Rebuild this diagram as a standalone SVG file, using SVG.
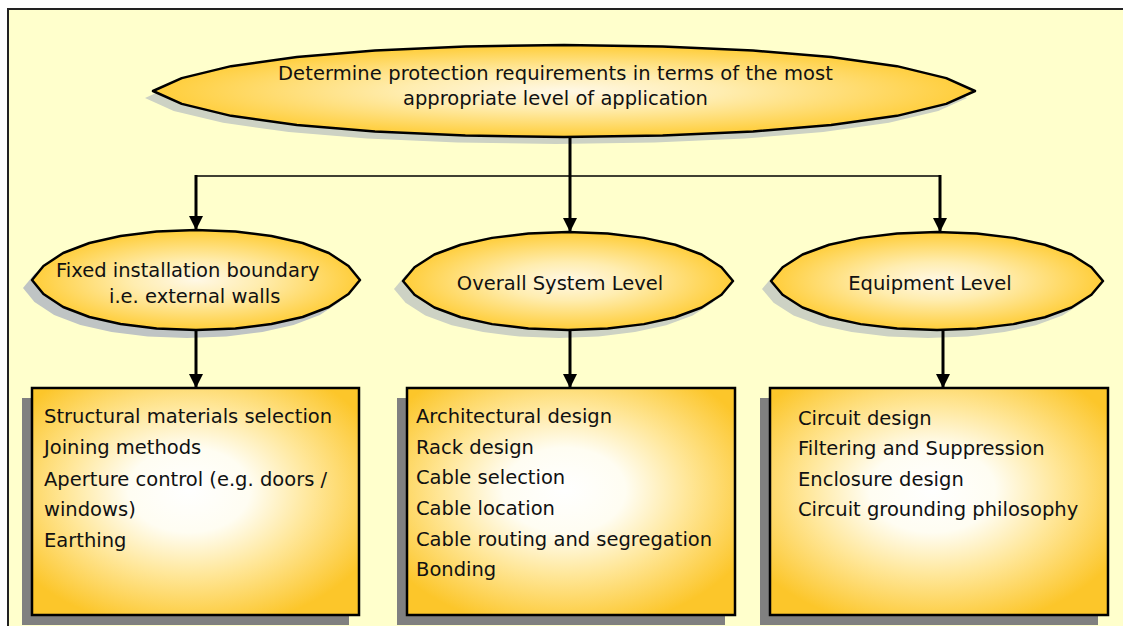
<svg xmlns="http://www.w3.org/2000/svg" width="1123" height="626" viewBox="0 0 1123 626">
<defs>
<radialGradient id="gEll" cx="50%" cy="50%" r="55%">
<stop offset="0" stop-color="#FFF8E6"/>
<stop offset="0.35" stop-color="#FFEDB0"/>
<stop offset="1" stop-color="#FFC825"/>
</radialGradient>
<radialGradient id="gBox" cx="48%" cy="45%" r="62%">
<stop offset="0" stop-color="#FFFFFF"/>
<stop offset="0.3" stop-color="#FFFDF2"/>
<stop offset="0.6" stop-color="#FFE79A"/>
<stop offset="1" stop-color="#FCC62A"/>
</radialGradient>
<path id="oval" vector-effect="non-scaling-stroke" d="M1,0 L0.93,0.28 0.81,0.54 0.65,0.74 0.46,0.88 0.24,0.97 0,1 -0.24,0.97 -0.46,0.88 -0.65,0.74 -0.81,0.54 -0.93,0.28 -1,0 -0.93,-0.28 -0.81,-0.54 -0.65,-0.74 -0.46,-0.88 -0.24,-0.97 0,-1 0.24,-0.97 0.46,-0.88 0.65,-0.74 0.81,-0.54 0.93,-0.28 Z"/>
<marker id="ah" viewBox="0 0 10 10" refX="10" refY="5" markerWidth="4.8" markerHeight="4.8" markerUnits="strokeWidth" orient="auto">
<path d="M0,0 L10,5 L0,10 Z" fill="#000"/>
</marker>
</defs>
<style>
.ell{fill:url(#gEll);stroke:#000;stroke-width:2.5;stroke-linejoin:round}
.eshadow{fill:#CDD2C4;stroke:none}
.box{fill:url(#gBox);stroke:#000;stroke-width:2.5}
.bshadow{fill:#808080}
.t{font-family:"DejaVu Sans","Liberation Sans",sans-serif;font-size:19.5px;fill:#111}
.thick{stroke:#000;stroke-width:3;fill:none}
.thin{stroke:#000;stroke-width:1.6;fill:none}
</style>
<rect x="0" y="0" width="1123" height="626" fill="#FFFFFF"/>
<rect x="8" y="9" width="1130" height="630" fill="#FFFFCC" stroke="#222" stroke-width="2"/>

<g id="top">
<use href="#oval" class="eshadow" transform="translate(556,98) scale(411,46)"/>
<use href="#oval" class="ell" transform="translate(564,91) scale(411,46)"/>
<text class="t" x="555.5" y="80" text-anchor="middle" textLength="555" lengthAdjust="spacing">Determine protection requirements in terms of the most</text>
<text class="t" x="555.5" y="105" text-anchor="middle">appropriate level of application</text>
</g>

<g id="fixed">
<use href="#oval" class="eshadow" style="fill:#BFC4C4" transform="translate(187,288) scale(164,50)"/>
<use href="#oval" class="ell" transform="translate(196,280) scale(164,50)"/>
<text class="t" x="56" y="277">Fixed installation boundary</text>
<text class="t" x="109" y="303">i.e. external walls</text>
</g>

<g id="system">
<use href="#oval" class="eshadow" transform="translate(559,289) scale(165,49)"/>
<use href="#oval" class="ell" transform="translate(568,281) scale(165,49)"/>
<text class="t" x="560" y="290" text-anchor="middle">Overall System Level</text>
</g>

<g id="equipment">
<use href="#oval" class="eshadow" transform="translate(928,289) scale(166,49)"/>
<use href="#oval" class="ell" transform="translate(937,281) scale(166,49)"/>
<text class="t" x="930" y="290" text-anchor="middle">Equipment Level</text>
</g>

<g id="box-fixed">
<rect class="bshadow" x="22" y="398" width="327" height="227"/>
<rect class="box" x="32" y="388" width="327" height="227"/>
<text class="t" x="44" y="423">Structural materials selection</text>
<text class="t" x="44" y="454">Joining methods</text>
<text class="t" x="44" y="486">Aperture control (e.g. doors /</text>
<text class="t" x="44" y="516">windows)</text>
<text class="t" x="44" y="547">Earthing</text>
</g>

<g id="box-system">
<rect class="bshadow" x="397" y="398" width="328" height="227"/>
<rect class="box" x="407" y="388" width="328" height="227"/>
<text class="t" x="416" y="423">Architectural design</text>
<text class="t" x="416" y="454">Rack design</text>
<text class="t" x="416" y="484">Cable selection</text>
<text class="t" x="416" y="515">Cable location</text>
<text class="t" x="416" y="546">Cable routing and segregation</text>
<text class="t" x="416" y="576">Bonding</text>
</g>

<g id="box-equipment">
<rect class="bshadow" x="760" y="398" width="338" height="227"/>
<rect class="box" x="770" y="388" width="338" height="227"/>
<text class="t" x="798" y="425">Circuit design</text>
<text class="t" x="798" y="455">Filtering and Suppression</text>
<text class="t" x="798" y="486">Enclosure design</text>
<text class="t" x="798" y="516">Circuit grounding philosophy</text>
</g>

<g id="connectors">
<polyline class="thin" points="196,176 941,176"/>
<line class="thick" x1="570" y1="137" x2="570" y2="232" marker-end="url(#ah)"/>
<line class="thick" x1="196" y1="175" x2="196" y2="230" marker-end="url(#ah)"/>
<line class="thick" x1="940" y1="175" x2="940" y2="232" marker-end="url(#ah)"/>
<line class="thick" x1="196" y1="330" x2="196" y2="388" marker-end="url(#ah)"/>
<line class="thick" x1="570" y1="330" x2="570" y2="388" marker-end="url(#ah)"/>
<line class="thick" x1="943" y1="330" x2="943" y2="388" marker-end="url(#ah)"/>
</g>
</svg>
